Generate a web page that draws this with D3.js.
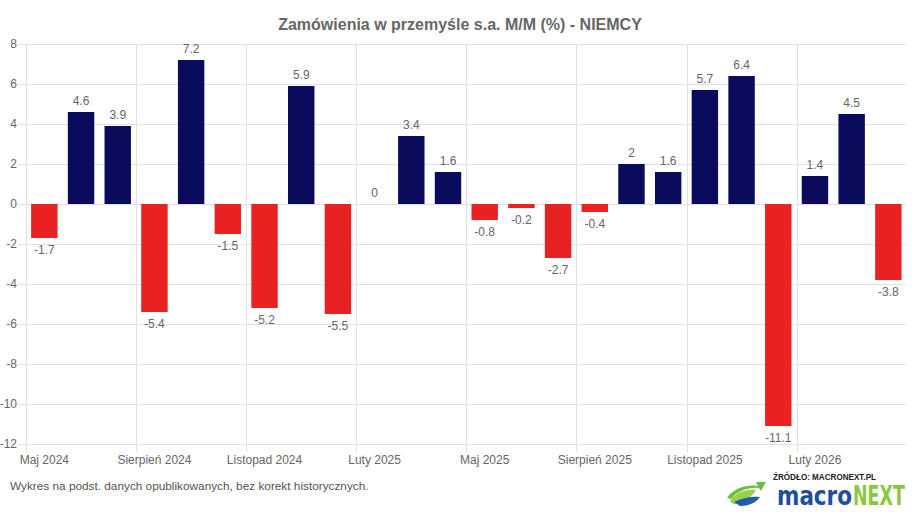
<!DOCTYPE html>
<html><head><meta charset="utf-8">
<script src="https://cdn.jsdelivr.net/npm/d3@7"></script>
<style>html,body{margin:0;padding:0;background:#fff;}svg{display:block;}</style>
</head><body>
<script>
const categories = ["Maj 2024","Czerwiec 2024","Lipiec 2024","Sierpień 2024","Wrzesień 2024","Październik 2024","Listopad 2024","Grudzień 2024","Styczeń 2025","Luty 2025","Marzec 2025","Kwiecień 2025","Maj 2025","Czerwiec 2025","Lipiec 2025","Sierpień 2025","Wrzesień 2025","Październik 2025","Listopad 2025","Grudzień 2025","Styczeń 2026","Luty 2026","Marzec 2026","Kwiecień 2026"];
const values = [-1.7,4.6,3.9,-5.4,7.2,-1.5,-5.2,5.9,-5.5,0,3.4,1.6,-0.8,-0.2,-2.7,-0.4,2,1.6,5.7,6.4,-11.1,1.4,4.5,-3.8];
const xTickLabels = ["Maj 2024","Sierpień 2024","Listopad 2024","Luty 2025","Maj 2025","Sierpień 2025","Listopad 2025","Luty 2026"];
const yTicks = [8,6,4,2,0,-2,-4,-6,-8,-10,-12];
const title = "Zamówienia w przemyśle s.a. M/M (%) - NIEMCY";
const footnote = "Wykres na podst. danych opublikowanych, bez korekt historycznych.";

const W = 920, H = 512;
const font = "'Liberation Sans', Arial, sans-serif";
const svg = d3.select("body").append("svg").attr("width", W).attr("height", H);

const x = d3.scaleBand().domain(categories).range([26, 906.7]).padding(0);
const y = d3.scaleLinear().domain([-12, 8]).range([444, 44]);
const grid = "#e1e1e1";

// horizontal grid + ticks
svg.append("g").selectAll("line").data(yTicks).join("line")
  .attr("x1", 18).attr("x2", 906.7)
  .attr("y1", d => y(d) + 0.5).attr("y2", d => y(d) + 0.5)
  .attr("stroke", grid).attr("stroke-width", 1);

// vertical grid at shown labels (band left edges)
svg.append("g").selectAll("line").data(xTickLabels).join("line")
  .attr("x1", d => Math.round(x(d)) + 0.5).attr("x2", d => Math.round(x(d)) + 0.5)
  .attr("y1", 44).attr("y2", 452)
  .attr("stroke", grid).attr("stroke-width", 1);

// y tick labels
svg.append("g").selectAll("text").data(yTicks).join("text")
  .attr("x", 17).attr("y", d => y(d) + 4)
  .attr("text-anchor", "end").attr("font-family", font).attr("font-size", 12)
  .attr("fill", "#666").text(d => d);

// x tick labels
svg.append("g").selectAll("text").data(xTickLabels).join("text")
  .attr("x", d => x(d) + x.bandwidth() / 2).attr("y", 464)
  .attr("text-anchor", "middle").attr("font-family", font).attr("font-size", 12)
  .attr("fill", "#666").text(d => d);

// bars
const bw = x.bandwidth() * 0.72;
const data = categories.map((c, i) => ({c, v: values[i]}));
svg.append("g").selectAll("rect").data(data).join("rect")
  .attr("x", d => x(d.c) + (x.bandwidth() - bw) / 2)
  .attr("width", bw)
  .attr("y", d => Math.min(y(d.v), y(0)))
  .attr("height", d => Math.abs(y(d.v) - y(0)))
  .attr("fill", d => d.v < 0 ? "#e82222" : "#0b0b5e");

// value labels
svg.append("g").selectAll("text").data(data).join("text")
  .attr("x", d => x(d.c) + x.bandwidth() / 2)
  .attr("y", d => d.v < 0 ? y(d.v) + 16 : y(d.v) - 7)
  .attr("text-anchor", "middle").attr("font-family", font).attr("font-size", 12)
  .attr("fill", "#666").text(d => d.v);

// title
svg.append("text").attr("x", 460).attr("y", 30).attr("text-anchor", "middle")
  .attr("font-family", font).attr("font-size", 16).attr("font-weight", "bold")
  .attr("fill", "#666").text(title);

// footnote
svg.append("text").attr("x", 10).attr("y", 490)
  .attr("font-family", font).attr("font-size", 11.8).attr("fill", "#555").text(footnote);

// logo
const logo = svg.append("g");
logo.append("path")
  .attr("d", "M727,498 C733,488 748,484 758,486 L756,482 L766,482 L761,491 L759,488 C750,487 738,490 731,499 Z")
  .attr("fill", "#6cbf3a");
logo.append("path")
  .attr("d", "M731,499 C738,491 748,489 756,490 C752,497 744,502 736,504 C732,504 729,502 731,499 Z")
  .attr("fill", "#9ad04a");
logo.append("path")
  .attr("d", "M734,502 C742,498 752,496 760,497 C756,503 748,506 740,506 Z")
  .attr("fill", "#1f5fa8");
logo.append("text").attr("x", 773).attr("y", 480)
  .attr("font-family", font).attr("font-size", 9).attr("font-weight", "bold")
  .attr("fill", "#222").attr("textLength", 103).attr("lengthAdjust", "spacingAndGlyphs")
  .text("ŹRÓDŁO: MACRONEXT.PL");
const narrow = "'Liberation Sans Narrow', 'DejaVu Sans Condensed', sans-serif";
const macroT = logo.append("text").attr("font-family", narrow).attr("font-size", 26)
  .attr("font-weight", "bold").attr("fill", "#1d4e9e").text("macro");
const nextT = logo.append("text").attr("font-family", narrow).attr("font-size", 26)
  .attr("font-weight", "bold").attr("fill", "#8cc63f").text("NEXT");
const mw = macroT.node().getComputedTextLength();
const nw = nextT.node().getComputedTextLength();
macroT.attr("transform", `translate(777,505) scale(${75 / mw},1)`);
nextT.attr("transform", `translate(853,505) scale(${52 / nw},1)`);
</script>
</body></html>
